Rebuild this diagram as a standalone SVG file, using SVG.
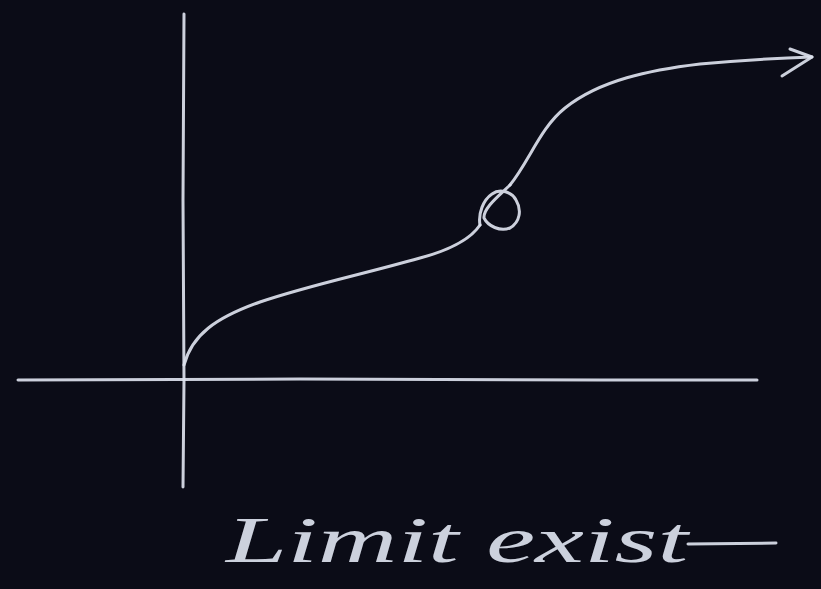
<svg xmlns="http://www.w3.org/2000/svg" width="821" height="589" viewBox="0 0 821 589">
<style>
.chalk{fill:none;stroke:#dde2ee;stroke-width:3;stroke-linecap:round;stroke-linejoin:round;opacity:0.92}
.lbl{font-family:"Liberation Serif","DejaVu Serif",serif;font-style:italic;font-size:66px;fill:#dde2ee;opacity:0.92}
</style>
<rect width="821" height="589" fill="#0b0c17"/>
<g id="axes">
<path class="chalk" d="M184 14 L183 200 L184 380 L183 487"/>
<path class="chalk" d="M18 380 L300 379 L600 380 L757 380"/>
</g>
<g id="connectors">
<path class="chalk" d="M184 365 C192 335 215 318 260 302 C310 285 360 275 420 258 C450 250 470 240 480 225"/>
<path class="chalk" d="M480 225 C478 214 483 200 492 194 C500 188 512 192 516 200 C522 210 520 222 510 228 C500 232 488 226 484 218 C483 208 500 195 510 185"/>
<path class="chalk" d="M510 185 C530 160 540 128 565 108 C600 80 650 70 700 64 C745 60 780 58 812 57"/>
<path class="chalk" d="M790 49 L812 57 L782 76"/>
</g>
<g id="label">
<text class="lbl" x="226" y="562" textLength="462" lengthAdjust="spacingAndGlyphs">Limit exist</text>
<path class="chalk" d="M688 544 L776 543"/>
</g>
</svg>
